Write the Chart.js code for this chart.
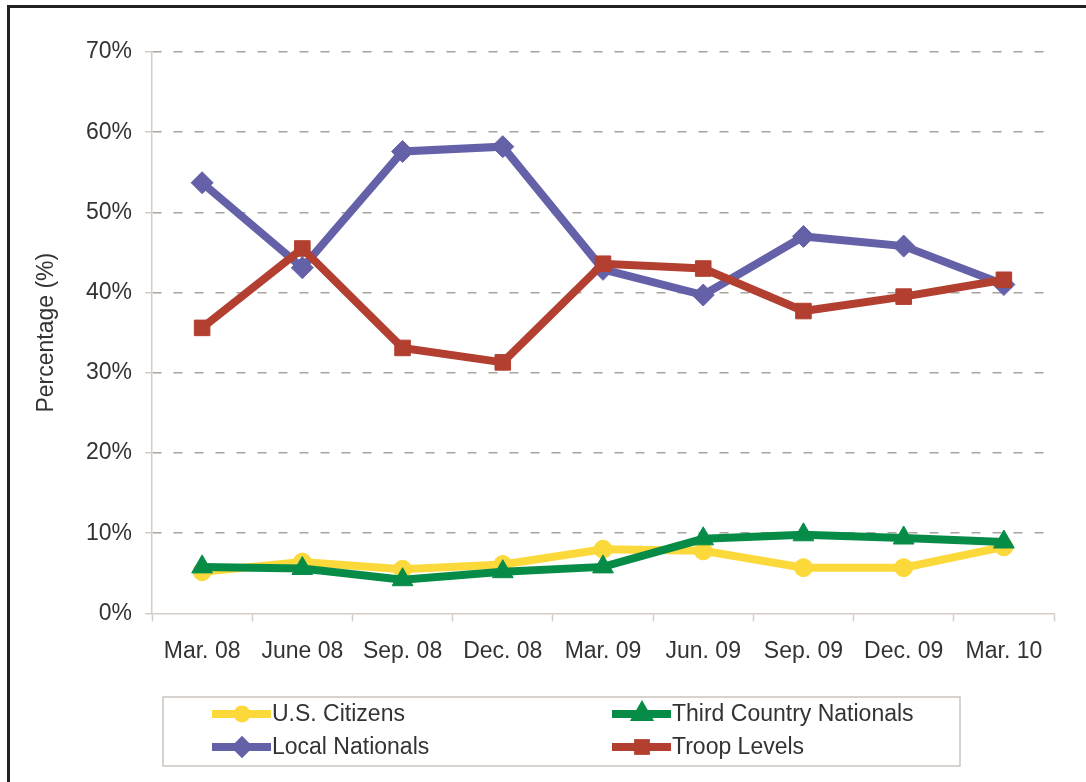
<!DOCTYPE html>
<html>
<head>
<meta charset="utf-8">
<script src="https://cdn.jsdelivr.net/npm/chart.js@4.4.0/dist/chart.umd.min.js"></script>
<style>
  html, body { margin: 0; padding: 0; background: #fff; }
  #wrap { width: 1086px; height: 782px; position: relative; }
</style>
</head>
<body>
<div id="wrap"><canvas id="empChart" width="1086" height="782"></canvas></div>
<script>
// values (percent)
const quarters = ['Mar. 08', 'June 08', 'Sep. 08', 'Dec. 08', 'Mar. 09', 'Jun. 09', 'Sep. 09', 'Dec. 09', 'Mar. 10'];
const usCitizens = [5.2, 6.4, 5.5, 6.1, 8.0, 7.8, 5.7, 5.7, 8.3];
const thirdCountry = [5.8, 5.6, 4.2, 5.2, 5.8, 9.3, 9.8, 9.4, 8.9];
const localNationals = [53.7, 43.1, 57.6, 58.2, 42.9, 39.7, 47.0, 45.8, 41.0];
const troopLevels = [35.6, 45.5, 33.1, 31.3, 43.6, 43.0, 37.7, 39.5, 41.6];
const yMax = 70;
const yStep = 10;

const TEXT = '#333';
const AXIS = '#d3ccc7';
const GRID = '#a9a29d';

Chart.defaults.font.family = '"Liberation Sans", Arial, sans-serif';
Chart.defaults.font.size = 23;
Chart.defaults.color = TEXT;

// black frame on top and left, like the scanned figure
const framePlugin = {
  id: 'frame',
  beforeDraw(chart) {
    const ctx = chart.ctx;
    ctx.save();
    ctx.fillStyle = '#fff';
    ctx.fillRect(0, 0, chart.width, chart.height);
    ctx.fillStyle = '#222';
    ctx.fillRect(7, 5, chart.width - 7, 3);
    ctx.fillRect(7, 5, 3, chart.height - 5);
    ctx.restore();
  }
};

// boxed two-column legend under the plot
const boxLegend = {
  id: 'boxLegend',
  afterDraw(chart) {
    const ctx = chart.ctx;
    ctx.save();
    ctx.strokeStyle = '#cbc4bf';
    ctx.lineWidth = 1.5;
    ctx.strokeRect(163, 697, 797, 69);

    const cols = [212, 612];
    const rows = [714, 747];
    chart.data.datasets.forEach((ds, i) => {
      const x0 = cols[i % 2];
      const y = rows[Math.floor(i / 2)];
      ctx.strokeStyle = ds.borderColor;
      ctx.lineWidth = 8;
      ctx.setLineDash([]);
      ctx.beginPath();
      ctx.moveTo(x0, y);
      ctx.lineTo(x0 + 59, y);
      ctx.stroke();
      if (Chart.helpers && Chart.helpers.drawPoint) {
        Chart.helpers.drawPoint(ctx, {
          pointStyle: ds.pointStyle,
          radius: ds.pointRadius * 0.5,
          rotation: 0,
          borderWidth: 1
        }, x0 + 30, y);
        ctx.fillStyle = ds.backgroundColor;
        ctx.fill();
      }
      ctx.fillStyle = TEXT;
      ctx.font = '23px "Liberation Sans", Arial, sans-serif';
      ctx.textBaseline = 'middle';
      ctx.textAlign = 'left';
      ctx.fillText(ds.label, x0 + 60, y + 1);
    });
    ctx.restore();
  }
};

function line(label, data, color, style, radius, order) {
  return {
    label: label,
    data: data,
    borderColor: color,
    backgroundColor: color,
    borderWidth: 8,
    pointStyle: style,
    pointRadius: radius,
    pointBorderWidth: 1,
    pointBackgroundColor: color,
    pointBorderColor: color,
    tension: 0,
    order: order
  };
}

const config = {
  type: 'line',
  data: {
    labels: quarters,
    datasets: [
      line('U.S. Citizens', usCitizens, '#fcd93a', 'circle', 9, 4),
      line('Third Country Nationals', thirdCountry, '#078c48', 'triangle', 12, 2),
      line('Local Nationals', localNationals, '#6561a8', 'rectRot', 11, 3),
      line('Troop Levels', troopLevels, '#b23f2f', 'rect', 11, 1)
    ]
  },
  options: {
    responsive: false,
    animation: false,
    layout: {
      padding: { top: 52, right: 32, bottom: 101, left: 20 }
    },
    plugins: {
      legend: { display: false },
      tooltip: { enabled: false }
    },
    scales: {
      x: {
        offset: true,
        grid: {
          offset: true,
          drawOnChartArea: false,
          drawTicks: true,
          tickLength: 8,
          tickColor: AXIS,
          tickWidth: 1.5
        },
        border: { color: AXIS, width: 1.5 },
        ticks: { padding: 16, color: TEXT, maxRotation: 0, autoSkip: false }
      },
      y: {
        min: 0,
        max: yMax,
        afterFit(scale) { scale.width = 132; },
        grid: {
          color: (c) => (c.tick && c.tick.value === 0 ? 'rgba(0,0,0,0)' : GRID),
          lineWidth: 1.5,
          tickLength: 7,
          tickColor: AXIS,
          tickWidth: 1.5,
          tickBorderDash: []
        },
        border: { color: AXIS, width: 1.5, dash: [9, 12] },
        ticks: {
          stepSize: yStep,
          padding: 13,
          color: TEXT,
          callback: (v) => v + '%'
        },
        title: {
          display: true,
          text: 'Percentage (%)',
          color: TEXT,
          padding: { top: 13, bottom: 0 }
        }
      }
    }
  },
  plugins: [framePlugin, boxLegend]
};

const empChart = new Chart(document.getElementById('empChart'), config);
</script>
</body>
</html>
